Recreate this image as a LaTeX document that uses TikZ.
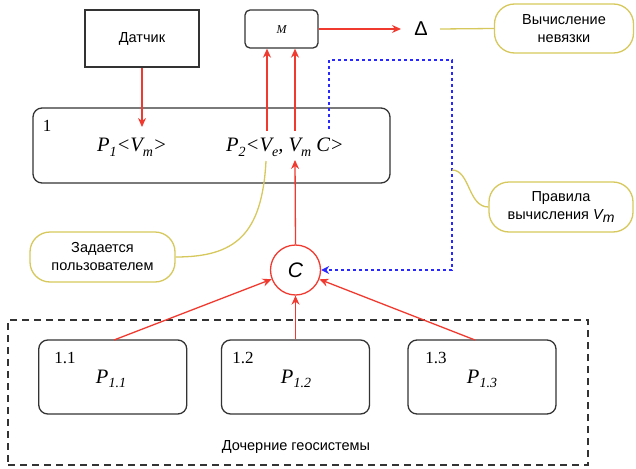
\documentclass[tikz,border=0pt]{standalone}
\usepackage{fontspec}
\setmainfont{Liberation Serif}
\newfontfamily\sansf{Liberation Sans}
\usetikzlibrary{arrows.meta,calc}
\definecolor{myred}{RGB}{240,58,48}
\definecolor{myyel}{RGB}{214,200,92}
\definecolor{myblue}{RGB}{40,40,255}
\definecolor{mygray}{RGB}{51,51,51}
\newcommand\sbx[1]{\raisebox{-0.5ex}{\fontsize{14}{14}\selectfont #1}}
\tikzset{
  plainbox/.style={draw=mygray,line width=1.3pt,minimum width=114pt,minimum height=57pt,inner sep=0pt},
  rbox/.style={draw=mygray,line width=1.3pt,rounded corners=9pt,inner sep=0pt},
  pill/.style={draw=myyel,line width=1.3pt,rounded corners=20pt,inner sep=0pt,align=center,font=\sansf\fontsize{14.5}{18}\selectfont},
  redarr/.style={draw=myred,line width=1.3pt,-{Stealth[length=9pt,width=8pt]}},
  yelline/.style={draw=myyel,line width=1.3pt},
  bluearr/.style={draw=myblue,line width=1.3pt,dash pattern=on 3pt off 3pt,-{Stealth[length=8pt,width=8pt]}},
  sanslbl/.style={font=\sansf\fontsize{14.5}{16}\selectfont,inner sep=0pt},
  mathlbl/.style={font=\fontsize{20.5}{22}\selectfont\itshape,inner sep=0pt},
  numlbl/.style={font=\fontsize{17}{18}\selectfont,inner sep=0pt}
}
\begin{document}
\begin{tikzpicture}[x=1pt,y=-1pt]
\useasboundingbox (0,0) rectangle (636,468);
% top row
\node[plainbox,sanslbl] (dat) at (142,38.5) {Датчик};
\node[rbox,minimum width=73pt,minimum height=38pt,rounded corners=5pt] (M) at (281.5,29) {};
\node[font=\fontsize{12}{12}\selectfont\itshape,inner sep=0pt] (Mtxt) at (281.5,29.5) {M};
\node[font=\sansf\fontsize{20}{20}\selectfont,inner sep=0pt] (delta) at (421,29) {Δ};
\node[pill,minimum width=139pt,minimum height=49pt] (nev) at (564,28.5) {Вычисление\\невязки};
% main box
\node[rbox,minimum width=357pt,minimum height=75pt] (b1) at (211.5,145.5) {};
\node[numlbl] (l1) at (47,126) {1};
\node[mathlbl] (p1) at (132,147) {P\sbx{1}<V\sbx{m}>};
\node[mathlbl] (p2) at (285,147) {P\sbx{2}<V\sbx{e}, V\sbx{m} C>};
% circle
\node[draw=myred,line width=1.3pt,circle,minimum size=50pt,inner sep=0pt,font=\sansf\fontsize{21}{21}\selectfont\itshape] (c) at (295.5,270) {C};
% pills
\node[pill,minimum width=145pt,minimum height=50pt] (zad) at (102.5,257) {Задается\\пользователем};
\node[pill,minimum width=144pt,minimum height=50pt] (prav) at (561,207) {Правила\\вычисления {\itshape V\sbx{m}}};
% bottom
\node[draw=mygray,line width=1.3pt,dash pattern=on 7pt off 5pt,minimum width=580pt,minimum height=145pt,inner sep=0pt] (geo) at (298,392.5) {};
\node[rbox,minimum width=148pt,minimum height=74pt] (b11) at (112.75,377) {};
\node[rbox,minimum width=148pt,minimum height=74pt] (b12) at (295.5,377) {};
\node[rbox,minimum width=148pt,minimum height=74pt] (b13) at (482,377) {};
\node[numlbl] (l11) at (65,358) {1.1};
\node[numlbl] (l12) at (243,358) {1.2};
\node[numlbl] (l13) at (436,358) {1.3};
\node[mathlbl] (p11) at (111,379) {P\sbx{1.1}};
\node[mathlbl] (p12) at (296,379) {P\sbx{1.2}};
\node[mathlbl] (p13) at (482,379) {P\sbx{1.3}};
\node[sanslbl] (geol) at (296,447) {Дочерние геосистемы};
% coordinates
\coordinate (datend) at (142,127);
\coordinate (s1) at (267,131);
\coordinate (s2) at (295,131);
\coordinate (cend) at (295,160);
\coordinate (deltaend) at (401,29);
\coordinate (bl0) at (329,129);
\coordinate (bl1) at (329,60);
\coordinate (bl2) at (452,60);
\coordinate (bl3) at (452,270);
\coordinate (yb) at (452,170);
\coordinate (ye) at (266,161);
\coordinate (s11) at (114,340);
\coordinate (s13) at (475,340);
\coordinate (ys) at (440,29);
% connectors
\draw[redarr] (dat.south) -- (datend);
\draw[redarr] (s1) -- (s1 |- M.south);
\draw[redarr] (s2) -- (s2 |- M.south);
\draw[redarr] (M.east) -- (deltaend);
\draw[yelline] (ys) -- (nev.west);
\draw[redarr] (c.north) -- (cend);
\draw[bluearr] (bl0) -- (bl1) -- (bl2) -- (bl3) -- (c.east);
\draw[yelline] (yb) .. controls (470,170) and (468,207) .. (prav.west);
\draw[yelline] (ye) .. controls (262,235) and (235,257) .. (zad.east);
\draw[redarr] (s11) -- (c);
\draw[redarr] (b12.north) -- (c.south);
\draw[redarr] (s13) -- (c);
\end{tikzpicture}
\end{document}
